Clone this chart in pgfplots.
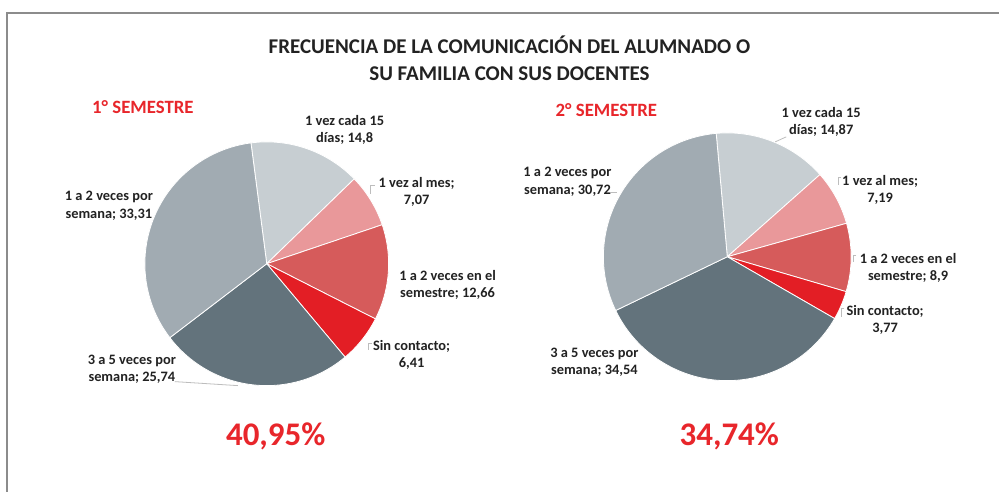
\documentclass[border=0pt]{standalone}
\usepackage{fontspec}
\setmainfont{Carlito}
\usepackage{pgfplots}
\usepackage{pgfplotstable}
\pgfplotsset{compat=1.18}

\definecolor{c1}{HTML}{C7CED2}
\definecolor{c2}{HTML}{E9989A}
\definecolor{c3}{HTML}{D65B5B}
\definecolor{c4}{HTML}{E31E25}
\definecolor{c5}{HTML}{63737C}
\definecolor{c6}{HTML}{A1ABB2}
\definecolor{txt}{HTML}{222222}
\definecolor{rojo}{HTML}{E8262B}
\definecolor{marco}{HTML}{8C8C8C}
\definecolor{guia}{HTML}{BDBDBD}

\tikzset{lab/.style={font=\fontsize{7.2}{8.6}\selectfont\bfseries, text=txt, align=center, inner sep=0pt}}

% 1er semestre
\pgfplotstableread{
valor color
14.8  c1
7.07  c2
12.66 c3
6.41  c4
25.74 c5
33.31 c6
}\semuno
% 2do semestre
\pgfplotstableread{
valor color
14.87 c1
7.19  c2
8.9   c3
3.77  c4
34.54 c5
30.72 c6
}\semdos

% tarta: #1 tabla, #2 cx, #3 cy, #4 radio (unidades del eje), #5 angulo inicial
\newcommand{\tarta}[5]{%
  \pgfplotstablegetrowsof{#1}%
  \pgfmathtruncatemacro{\nfilas}{\pgfplotsretval-1}%
  \pgfmathsetmacro{\rad}{#4*0.5}%
  \xdef\angulo{#5}%
  \foreach \i in {0,...,\nfilas}{%
    \pgfplotstablegetelem{\i}{valor}\of{#1}\let\v\pgfplotsretval
    \pgfplotstablegetelem{\i}{color}\of{#1}\let\col\pgfplotsretval
    \pgfmathsetmacro{\fin}{\angulo-3.6*\v}%
    \edef\temp{\noexpand\fill[\col, draw=white, line width=0.4pt]
      (axis cs:#2,#3) -- ++(\angulo:\rad pt)
      arc[start angle=\angulo, end angle=\fin, radius=\rad pt] -- cycle;}%
    \temp
    \xdef\angulo{\fin}%
  }%
}

\begin{document}
\begin{tikzpicture}
\begin{axis}[
    scale only axis,
    width=500pt, height=246pt,
    xmin=0, xmax=1000, ymin=0, ymax=492,
    y dir=reverse,
    hide axis, clip=false,
  ]
  \fill[white] (axis cs:0,0) rectangle (axis cs:1000,492);
  \draw[marco, line width=1pt] (axis cs:7,492) -- (axis cs:7,13.5) -- (axis cs:1000,13.5);

  \node[font=\fontsize{10.5}{13.5}\selectfont\bfseries, text=txt, align=center]
    at (axis cs:510,58) {FRECUENCIA DE LA COMUNICACIÓN DEL ALUMNADO O\\SU FAMILIA CON SUS DOCENTES};

  \tarta{\semuno}{267}{264}{122}{97.4}
  \tarta{\semdos}{728}{257}{124}{95.1}

  \node[font=\fontsize{9.4}{11}\selectfont\bfseries, text=rojo] at (axis cs:143,107) {1° SEMESTRE};
  \node[font=\fontsize{9.4}{11}\selectfont\bfseries, text=rojo] at (axis cs:607,110) {2° SEMESTRE};

  % etiquetas 1er semestre
  \node[lab] at (axis cs:345,130) {1 vez cada 15\\días; 14,8};
  \node[lab] at (axis cs:417,192) {1 vez al mes;\\7,07};
  \node[lab] at (axis cs:448,285) {1 a 2 veces en el\\semestre; 12,66};
  \node[lab] at (axis cs:412,355) {Sin contacto;\\6,41};
  \node[lab] at (axis cs:132,370) {3 a 5 veces por\\semana; 25,74};
  \node[lab] at (axis cs:109,206) {1 a 2 veces por\\semana; 33,31};

  % etiquetas 2do semestre
  \node[lab] at (axis cs:822,122) {1 vez cada 15\\días; 14,87};
  \node[lab] at (axis cs:881,190) {1 vez al mes;\\7,19};
  \node[lab] at (axis cs:909,268) {1 a 2 veces en el\\semestre; 8,9};
  \node[lab] at (axis cs:886,320) {Sin contacto;\\3,77};
  \node[lab] at (axis cs:595,363) {3 a 5 veces por\\semana; 34,54};
  \node[lab] at (axis cs:568,182) {1 a 2 veces por\\semana; 30,72};

  % lineas guia
  \draw[guia, line width=0.4pt] (axis cs:175,382) -- (axis cs:238,386);
  \draw[guia, line width=0.4pt] (axis cs:375,186) -- (axis cs:371,186) -- (axis cs:371,194);
  \draw[guia, line width=0.4pt] (axis cs:372,344) -- (axis cs:369,344) -- (axis cs:369,350);
  \draw[guia, line width=0.4pt] (axis cs:787,137) -- (axis cs:776,142);
  \draw[guia, line width=0.4pt] (axis cs:611,193) -- (axis cs:618,193);
  \draw[guia, line width=0.4pt] (axis cs:842,178) -- (axis cs:839,178) -- (axis cs:839,185);
  \draw[guia, line width=0.4pt] (axis cs:857,256) -- (axis cs:854,256) -- (axis cs:854,262);
  \draw[guia, line width=0.4pt] (axis cs:845,309) -- (axis cs:842,309) -- (axis cs:842,317);

  \node[font=\fontsize{16.5}{20}\selectfont\bfseries, text=rojo] at (axis cs:276,437) {40,95\%};
  \node[font=\fontsize{16.5}{20}\selectfont\bfseries, text=rojo] at (axis cs:730,437) {34,74\%};
\end{axis}
\end{tikzpicture}
\end{document}
